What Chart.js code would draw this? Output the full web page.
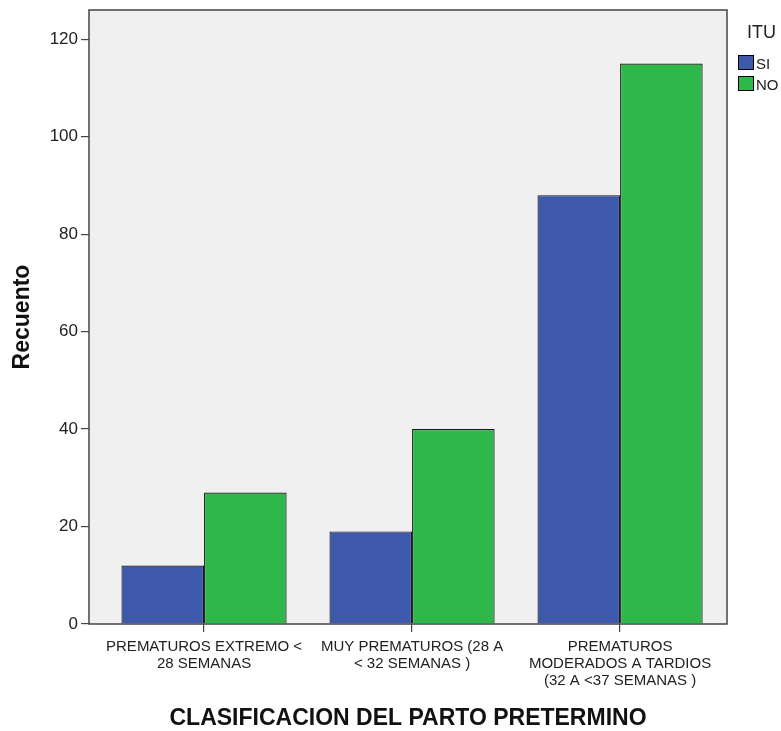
<!DOCTYPE html>
<html>
<head>
<meta charset="utf-8">
<script src="https://cdn.jsdelivr.net/npm/chart.js@4/dist/chart.umd.min.js"></script>
<style>
html,body{margin:0;padding:0;background:#fff;overflow:hidden;}
#wrap{position:relative;width:781px;height:731px;}
</style>
</head>
<body>
<div id="wrap"><canvas id="c" width="781" height="731"></canvas></div>
<script>
const categories = [
  ["PREMATUROS EXTREMO <", "28 SEMANAS"],
  ["MUY PREMATUROS (28 A", "< 32 SEMANAS )"],
  ["PREMATUROS", "MODERADOS A TARDIOS", "(32 A <37 SEMANAS )"]
];
const seriesNames = ["SI", "NO"];
const siValues = [12, 19, 88];
const noValues = [27, 40, 115];
const yTicks = [0, 20, 40, 60, 80, 100, 120];
const legendTitle = "ITU";
const xTitle = "CLASIFICACION DEL PARTO PRETERMINO";
const yTitle = "Recuento";

const FONT = "'Liberation Sans', Arial, sans-serif";
const toPoints = arr => arr.map((v, i) => ({x: i, y: v}));

const framePlugin = {
  id: 'frame',
  beforeDatasetsDraw(chart) {
    const {ctx, chartArea: a} = chart;
    ctx.save();
    ctx.fillStyle = '#f0f0f0';
    ctx.fillRect(a.left, a.top, a.right - a.left, a.bottom - a.top);
    ctx.restore();
  },
  afterDraw(chart) {
    const {ctx, chartArea: a} = chart;
    ctx.save();
    ctx.strokeStyle = '#444';
    ctx.lineWidth = 1.5;
    ctx.strokeRect(a.left, a.top, a.right - a.left, a.bottom - a.top);
    // legend
    ctx.fillStyle = '#222';
    ctx.font = '18px ' + FONT;
    ctx.textBaseline = 'alphabetic';
    ctx.textAlign = 'left';
    ctx.fillText(legendTitle, a.right + 20, 38);
    chart.data.datasets.forEach((ds, i) => {
      const y = 55 + i * 21;
      ctx.fillStyle = ds.backgroundColor;
      ctx.fillRect(a.right + 11.5, y + 0.5, 15, 14);
      ctx.strokeStyle = '#000';
      ctx.lineWidth = 1;
      ctx.strokeRect(a.right + 11.5, y + 0.5, 15, 14);
      ctx.fillStyle = '#222';
      ctx.font = '15px ' + FONT;
      ctx.fillText(ds.label, a.right + 29, y + 14);
    });
    ctx.restore();
  }
};

new Chart(document.getElementById('c'), {
  type: 'bar',
  data: {
    datasets: [
      {label: seriesNames[0], data: toPoints(siValues), backgroundColor: '#3e58ac', borderColor: '#1a1a1a', borderWidth: 1.2},
      {label: seriesNames[1], data: toPoints(noValues), backgroundColor: '#2eb84a', borderColor: '#1a1a1a', borderWidth: 1.2}
    ]
  },
  options: {
    responsive: false,
    animation: false,
    devicePixelRatio: 1,
    layout: {padding: {top: 10, right: 54, left: 0, bottom: 0}},
    datasets: {bar: {categoryPercentage: 0.794, barPercentage: 1.0}},
    plugins: {legend: {display: false}, tooltip: {enabled: false}},
    scales: {
      x: {
        type: 'linear',
        min: -0.553, max: 2.514,
        offset: false,
        afterBuildTicks(s) { s.ticks = categories.map((c, i) => ({value: i})); },
        grid: {display: true, drawOnChartArea: false, drawTicks: true, tickLength: 8, offset: false, color: '#444', lineWidth: 1.2},
        border: {display: false},
        ticks: {
          color: '#222', font: {family: FONT, size: 15, lineHeight: 1.13}, padding: 6, maxRotation: 0, autoSkip: false,
          callback: (v) => categories[v]
        },
        title: {display: true, text: xTitle, color: '#111', font: {family: FONT, size: 23, weight: 'bold', lineHeight: 1.1}, padding: {top: 4, bottom: 0}},
        afterFit(s) { s.height = 107; s.paddingLeft = 0; s.paddingRight = 0; }
      },
      y: {
        min: 0, max: 126,
        afterBuildTicks(s) { s.ticks = yTicks.map(v => ({value: v})); },
        grid: {display: true, drawOnChartArea: false, drawTicks: true, tickLength: 8, color: '#444', lineWidth: 1.2},
        border: {display: false},
        ticks: {color: '#222', font: {family: FONT, size: 17}, padding: 3},
        title: {display: true, text: yTitle, color: '#111', font: {family: FONT, size: 23, weight: 'bold', lineHeight: 1.2}, padding: {top: 9, bottom: 0}},
        afterFit(s) { s.width = 89; s.paddingTop = 0; s.paddingBottom = 0; }
      }
    }
  },
  plugins: [framePlugin]
});
</script>
</body>
</html>
